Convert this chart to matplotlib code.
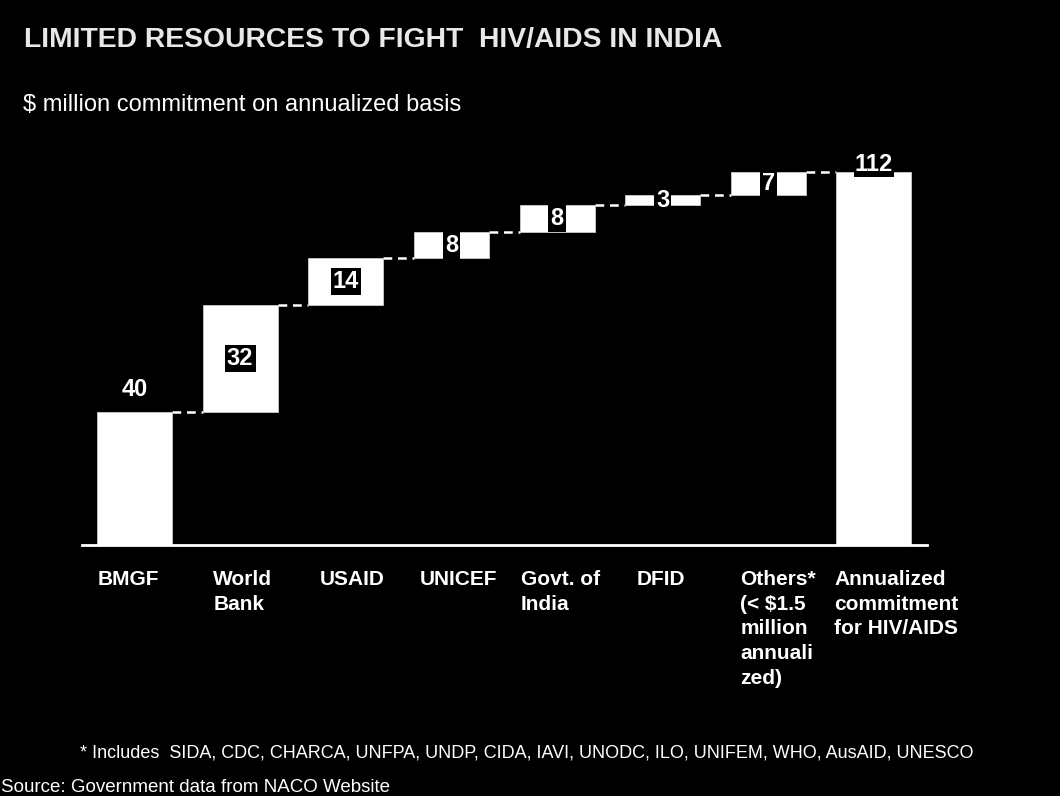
import numpy as np
import matplotlib.pyplot as plt

plt.rcParams['font.family'] = ['Liberation Sans', 'DejaVu Sans']

# data
categories = ['BMGF', 'World\nBank', 'USAID', 'UNICEF', 'Govt. of\nIndia', 'DFID',
              'Others*\n(< $1.5\nmillion\nannuali\nzed)', 'Annualized\ncommitment\nfor HIV/AIDS']
values = [40, 32, 14, 8, 8, 3, 7, 112]

# category label nudges (fraction of a slot, from bar left edge)
label_nudge = [0.01, 0.10, 0.11, 0.06, 0.01, 0.11, 0.09, -0.02]

n = len(values)
x = np.arange(n)
w = 0.71

# waterfall bottoms
bottoms = [0]
for v in values[1:-1]:
    bottoms.append(bottoms[-1] + values[len(bottoms) - 1])
bottoms.append(0)
tops = [b + v for b, v in zip(bottoms, values)]

fig = plt.figure(figsize=(10.6, 7.96), dpi=100, facecolor='black')
ax = fig.add_axes([81.7/1060, 251/796, 845/1060, 400/796])
ax.set_facecolor('black')

ax.bar(x, values, bottom=bottoms, width=w, color='white', edgecolor='#cccccc',
       linewidth=0.6, zorder=2)

# dashed connectors
for i in range(n - 1):
    ax.plot([x[i] + w/2, x[i+1] - w/2], [tops[i], tops[i]], color='white',
            lw=1.8, linestyle=(0, (3.5, 2.3)), zorder=1)

# value labels
lab_kw = dict(ha='center', va='center', color='white', fontsize=17, fontweight='bold')
for i, v in enumerate(values):
    if i == 0:
        ax.annotate(str(v), (x[i], tops[i]), xytext=(0, 22), textcoords='offset pixels', **lab_kw)
    elif i == n - 1:
        ax.annotate(str(v), (x[i], tops[i]), xytext=(0, 7), textcoords='offset pixels',
                    bbox=dict(facecolor='black', edgecolor='none', pad=0.5), zorder=3, **lab_kw)
    else:
        ax.text(x[i], bottoms[i] + v/2, str(v), zorder=3,
                bbox=dict(facecolor='black', edgecolor='none', pad=1.5), **lab_kw)

# category labels
for i, lab in enumerate(categories):
    ax.text(x[i] - w/2 + label_nudge[i], -0.0625, lab, transform=ax.get_xaxis_transform(),
            ha='left', va='top', color='white', fontsize=15, fontweight='bold',
            linespacing=1.375)

ax.set_xlim(-0.5, n - 0.5)
ax.set_ylim(0, 120)
for s in ['top', 'left', 'right']:
    ax.spines[s].set_visible(False)
ax.spines['bottom'].set_color('white')
ax.spines['bottom'].set_linewidth(2)
ax.set_xticks([])
ax.set_yticks([])

fig.text(24/1060, 1 - 47/796, 'LIMITED RESOURCES TO FIGHT  HIV/AIDS IN INDIA', color='#e8e8e8',
         fontsize=20.3, fontweight='bold', ha='left', va='baseline')
fig.text(23/1060, 1 - 111/796, '$ million commitment on annualized basis', color='white',
         fontsize=17, ha='left', va='baseline')
fig.text(80/1060, 1 - 753/796,
         '* Includes  SIDA, CDC, CHARCA, UNFPA, UNDP, CIDA, IAVI, UNODC, ILO, UNIFEM, WHO, AusAID, UNESCO',
         color='white', fontsize=13, ha='left', va='center')
fig.text(1/1060, 1 - 787/796, 'Source: Government data from NACO Website', color='white',
         fontsize=13.5, ha='left', va='center')

fig.savefig('out.png', dpi=100, facecolor='black')
